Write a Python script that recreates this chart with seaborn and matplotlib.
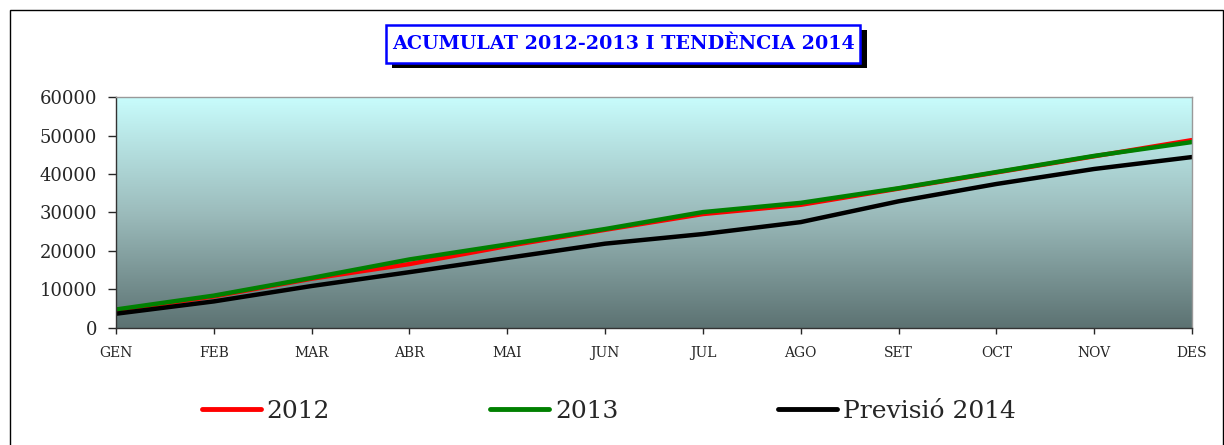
import numpy as np
import pandas as pd
import matplotlib.pyplot as plt
import matplotlib.patches as mpatches
from matplotlib.colors import LinearSegmentedColormap
import seaborn as sns

# data
MONTHS = ["GEN", "FEB", "MAR", "ABR", "MAI", "JUN", "JUL", "AGO", "SET", "OCT", "NOV", "DES"]
acum_2012 = [4500, 8200, 12800, 16600, 21300, 25500, 29600, 32000, 36200, 40400, 44600, 48800]
acum_2013 = [4800, 8400, 13000, 17800, 21700, 25700, 30100, 32500, 36300, 40500, 44700, 48300]
prev_2014 = [3700, 6900, 10900, 14500, 18200, 21900, 24400, 27500, 32900, 37400, 41300, 44400]
SERIES = ["2012", "2013", "Previsió 2014"]
COLORS = ["#ff0000", "#008000", "#000000"]

df = pd.DataFrame({
    "mes": MONTHS * 3,
    "valor": acum_2012 + acum_2013 + prev_2014,
    "serie": [s for s in SERIES for _ in MONTHS],
})

sns.set_style("white")
plt.rcParams["font.family"] = ["DejaVu Serif"]

fig = plt.figure(figsize=(12.24, 4.45), dpi=100)
ax = fig.add_axes([0.0948, 0.263, 0.879, 0.519])

# gradient background of the plot area
cmap = LinearSegmentedColormap.from_list("bg", ["#5c7272", "#9cbcbc", "#c8fcfc"])
grad = np.linspace(0, 1, 256).reshape(-1, 1)
ax.imshow(grad, cmap=cmap, aspect="auto", origin="lower",
          extent=[0, 1, 0, 1], transform=ax.transAxes, zorder=0)

sns.lineplot(data=df, x="mes", y="valor", hue="serie", hue_order=SERIES,
             palette=COLORS, linewidth=3.2, ax=ax, legend=False, sort=False)

ax.set_xlim(0, len(MONTHS) - 1)
ax.set_ylim(0, 60000)
ax.set_yticks(range(0, 60001, 10000))
ax.set_xticks(range(len(MONTHS)))
ax.set_xticklabels(MONTHS)
ax.set_xlabel("")
ax.set_ylabel("")
ax.tick_params(axis="y", labelsize=13, length=5.5, width=1, direction="out", left=True, pad=8)
ax.tick_params(axis="x", labelsize=10, length=4, width=1, direction="out", bottom=True, pad=9)
for side in ["left", "bottom"]:
    ax.spines[side].set_color("#333333")
    ax.spines[side].set_linewidth(1)
for side in ["top", "right"]:
    ax.spines[side].set_color("#999999")
    ax.spines[side].set_linewidth(1)

# legend below the plot
handles = [plt.Line2D([], [], color=c, linewidth=3.5, solid_capstyle="round") for c in COLORS]
fig.legend(handles, SERIES, loc="center", bbox_to_anchor=(0.4975, 0.076), ncol=3,
           frameon=False, fontsize=18, handlelength=2.36, handletextpad=0.24,
           columnspacing=6.4)

# title box with shadow
fig.patches.append(mpatches.Rectangle((0.320, 0.847), 0.388, 0.085, transform=fig.transFigure,
                                      facecolor="black", edgecolor="none", zorder=1))
fig.patches.append(mpatches.Rectangle((0.315, 0.858), 0.388, 0.085, transform=fig.transFigure,
                                      facecolor="white", edgecolor="#0000ff", linewidth=1.8, zorder=2))
fig.text(0.509, 0.901, "ACUMULAT 2012-2013 I TENDÈNCIA 2014", ha="center", va="center",
         fontsize=13.8, fontweight="bold", color="#0000ff", zorder=3)

# outer frame of the chart
fig.patches.append(mpatches.Rectangle((0.008, -0.01), 0.991, 0.988, transform=fig.transFigure,
                                      facecolor="none", edgecolor="black", linewidth=1))

fig.savefig("out.png", dpi=100)
